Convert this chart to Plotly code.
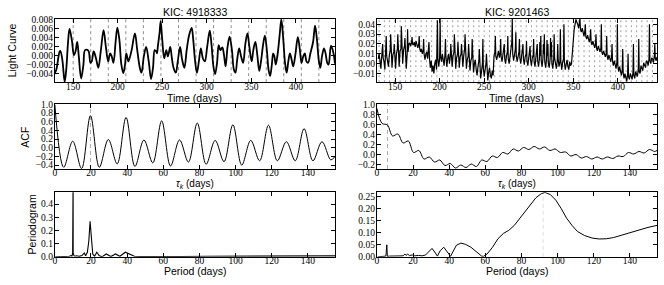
import numpy as np
import plotly.graph_objects as go

# ---------------- data ----------------
titles = ["KIC: 4918333", "KIC: 9201463"]

# Left light curve (time in days, flux in units of 1e-3)
lc1_t = [129.0,131.2,134.9,135.7,137.9,140.5,142.3,144.2,146.0,148.6,
         150.9,152.7,154.6,156.4,159.0,161.6,163.4,167.1,169.4,170.9,
         173.1,175.7,178.3,181.2,184.2,186.8,189.4,191.6,193.4,195.3,
         197.9,199.7,202.0,204.2,206.4,208.3,209.7,212.0,213.4,215.7,
         219.4,222.0,224.9,226.8,229.4,232.0,234.9,237.5,239.7,241.6,
         243.4,244.2,245.3,247.1,248.3,250.1,252.3,254.6,256.4,259.0,
         260.9,262.7,265.3,267.5,270.1,272.3,274.9,277.5,280.1,283.1,
         284.9,286.8,289.0,291.2,293.4,295.7,297.9,300.5,303.4,305.3,
         307.5,309.4,311.6,313.4,315.3,317.5,319.4,321.2,323.4,325.7,
         328.3,330.5,332.3,334.2,336.4,338.6,340.9,343.4,345.7,347.9,
         350.5,352.3,354.6,356.8,359.0,361.2,363.4,365.3,367.5,369.4,
         371.2,373.1,374.6,376.0,377.5,379.7,382.0,383.8,386.0,387.9,
         389.7,391.6,393.4,395.3,397.1,399.7,402.3,404.6,406.4,408.3,
         410.1,412.0,413.8,416.4,419.4,421.6,423.8,425.7,427.5,429.4,
         431.6,433.4,435.3,436.8,439.5,442.0,444.0]
lc1_f = [-4.1,-3.1,0.9,1.0,-0.9,-5.8,-3.1,2.6,5.9,3.4,
         0.1,0.9,3.0,-0.2,-5.1,-2.0,1.2,1.1,-1.6,-1.3,
         0.9,-0.6,-2.7,1.2,5.6,1.9,-1.3,0.5,-0.2,-1.6,
         3.4,6.2,3.4,-2.0,-3.9,-2.0,0.5,-1.3,-0.6,1.2,
         4.9,1.2,-2.7,-3.8,-0.2,1.9,-1.3,-5.2,-2.7,1.2,
         0.9,0.5,2.3,5.1,7.6,3.4,-0.6,1.2,-0.2,1.9,
         -0.6,-2.7,-3.8,-1.3,1.9,-0.8,-2.7,1.2,4.4,6.1,
         3.4,-0.9,-3.8,-1.3,1.6,-0.6,-1.3,1.9,5.5,2.6,
         -2.4,-4.1,-1.6,2.3,1.2,1.8,0.1,-2.4,1.9,4.2,
         1.2,-3.1,-3.8,-0.9,1.6,-0.2,-1.6,2.6,4.9,1.9,
         -1.3,1.2,3.0,0.1,-3.4,-0.9,2.6,4.4,1.2,-3.1,
         -4.5,-2.0,0.5,-0.2,-2.0,0.5,4.8,8.0,3.4,-1.6,
         -3.8,-1.3,0.5,-0.9,-2.4,0.5,4.1,1.2,-1.6,-0.2,
         0.5,-1.3,-1.6,0.5,3.0,6.6,3.4,-0.9,-2.7,-0.2,
         1.6,0.5,-1.6,-2.0,2.2,0.8,-1.8]

# Right light curve (time in days, flux in units of 1e-2)
lc2_t = [131,132,133,134,135,136,136.5,137.5,138.5,139.5,
         140,140.5,141.5,142.5,143.5,144.5,145,145.5,146.5,147.5,
         148.5,149,149.5,150.5,151.5,152.5,153,153.5,154.5,155.5,
         156.5,157,157.5,158.5,159.5,160.5,161,161.5,162.5,163.5,
         164,164.5,165.5,166.5,167.5,168.5,169,169.5,170.5,171.5,
         172.5,173.5,174.5,175.5,176.5,177,177.5,178.5,179.5,180.5,
         181.5,182,182.5,183.5,184.5,185.5,186.5,187.5,188,188.5,
         189.5,190.5,191.5,192.5,193.5,194.5,195.5,196.5,197,197.5,
         198,199,200,200.5,201,202,203,204,205,206,
         206.5,207,208,209,210,211,212,212.5,213,214,
         215,216,216.5,217,218,219,220,220.5,221,222,
         223,224,224.5,225,226,227,228,228.5,229,230,
         231,232,232.5,233,234,235,236,236.5,237,238,
         239,240,241,242,243,244,244.5,245,246,247,
         248,248.5,249,250,251,252,252.5,253,254,255,
         256,257,258,259,260,261,262,262.5,263,264,
         265,266,267,268,268.5,269,270,271,272,272.5,
         273,274,275,276,276.5,277,278,279,280,281,
         281.5,282,283,284,285,285.5,286,287,288,289,
         289.5,290,291,292,293,293.5,294,295,296,297,
         297.5,298,299,300,301,301.5,302,303,304,305,
         305.5,306,307,308,309,309.5,310,311,312,312.5,
         313,313.5,314,315,316,316.5,317,317.5,318,319,
         320,320.5,321,321.5,322,323,324,324.5,325,325.5,
         326,327,328,328.5,329,330,331,332,332.5,333,
         334,335,335.5,336,337,338,339,339.5,340,341,
         342,343,344,345,346,347,348,349,350,351,
         352,353,354,355,356,357,357.5,358,359,360,
         361,362,363,363.5,364,365,366,367,368,369,
         369.5,370,371,372,373,374,375,375.5,376,377,
         378,379,380,381,381.5,382,383,384,385,386,
         387,387.5,388,389,390,391,392,393,393.5,394,
         395,396,397,398,399,399.5,400,401,402,403,
         404,405,405.5,406,407,408,409,410,411,411.5,
         412,413,414,415,416,417,417.5,418,419,420,
         421,422,423,423.5,424,425,426,427,428,429,
         430,431,432,433,434,435,435.5,436,437,438,
         439,440,441,441.5,442,443,444]
lc2_f = [0.5,1.0,0.3,-0.5,0.8,2.0,0.6,0.2,-0.6,1.0,
         2.8,0.8,0.3,-0.3,0.9,1.3,3.0,0.7,-0.4,0.9,
         1.2,2.0,0.5,-0.5,1.0,1.5,3.0,0.8,-0.3,1.3,
         1.5,3.8,1.0,0.0,1.4,1.8,2.6,1.0,-0.5,1.0,
         3.5,1.2,2.0,2.1,1.8,2.2,2.7,2.0,1.9,2.2,
         1.7,2.3,1.9,1.6,2.0,2.8,1.6,1.2,1.5,1.0,
         1.4,2.5,1.0,0.4,1.0,1.2,0.5,1.3,2.2,0.6,
         -0.4,0.3,-0.8,-0.2,-1.0,0.0,0.4,-0.6,0.8,4.4,
         0.5,-0.3,0.6,4.6,0.8,0.2,1.0,0.3,-0.2,1.0,
         2.5,0.8,-0.3,0.5,1.0,0.0,0.8,2.0,0.6,-0.3,
         0.8,1.2,3.0,0.5,-0.5,0.6,1.0,2.2,0.4,-0.4,
         0.7,1.0,2.0,0.3,-0.3,0.8,1.5,3.0,0.5,-0.5,
         0.4,0.8,2.0,0.0,-0.7,0.3,0.6,2.5,0.0,-0.9,
         0.0,0.4,-0.6,-1.2,-0.3,0.3,1.5,-0.5,-1.5,-0.8,
         0.0,2.5,-0.4,-1.3,-0.6,0.0,1.0,-0.8,-1.7,-0.9,
         -0.4,-1.2,-1.5,-0.7,-1.2,0.8,1.2,2.8,0.8,0.4,
         1.0,1.3,0.6,1.2,2.5,0.7,0.2,0.9,1.1,2.0,
         0.5,0.0,0.8,1.2,2.8,0.5,0.0,0.9,1.3,2.2,
         4.6,1.0,0.3,1.0,1.5,3.2,0.8,0.2,1.0,1.2,
         2.5,0.6,0.0,0.8,1.1,2.0,0.5,-0.1,0.7,1.0,
         2.3,0.3,-0.2,0.7,1.0,1.8,0.4,-0.2,0.6,0.9,
         2.5,0.2,-0.3,0.6,0.9,2.0,0.3,-0.3,0.5,2.2,
         0.8,2.8,0.3,-0.3,0.6,2.0,1.0,3.0,0.2,-0.4,
         0.5,2.4,0.8,2.0,0.0,-0.4,0.5,2.6,0.7,2.2,
         0.0,-0.5,0.4,3.0,0.6,0.0,-0.5,0.3,2.0,0.5,
         -0.3,0.2,3.5,0.3,-0.6,0.1,0.5,4.0,0.2,-0.6,
         0.0,0.4,-0.3,-0.6,0.2,-0.2,0.0,1.5,2.8,3.5,
         4.0,4.5,4.2,4.0,3.6,4.3,4.6,3.5,3.2,3.6,
         3.0,2.8,3.3,4.0,2.8,2.5,2.9,2.4,2.2,2.7,
         3.5,2.2,1.9,2.3,1.8,1.6,2.1,3.0,1.6,1.3,
         1.8,1.4,1.2,1.6,4.0,1.2,0.9,1.3,1.0,0.7,
         1.1,2.8,0.8,0.4,0.9,0.6,0.2,0.7,2.0,0.3,
         -0.2,0.3,0.0,-0.5,0.2,4.0,-0.2,-0.8,-0.3,-0.7,
         -1.2,-0.6,1.5,-0.9,-1.5,-1.0,-1.4,-1.8,-1.1,1.0,
         -1.3,-1.6,-1.0,-1.3,-1.6,-0.9,2.0,-1.2,-1.5,-0.8,
         -1.0,-1.3,-0.5,2.5,-0.8,-1.0,-0.2,-0.4,-0.7,0.1,
         -0.1,-0.4,0.3,0.2,-0.2,0.5,4.0,0.3,0.0,0.6,
         0.5,0.1,0.8,2.0,0.6,0.3,0.7]

# ACFs (lag in days)
acf1_lag = [0, 4.9, 9.9, 14.8, 19.7, 24.6, 29.6, 34.5, 39.4, 44.3,
            49.3, 54.2, 59.1, 64.0, 69.0, 73.9, 78.8, 83.7, 88.7, 93.6,
            98.5, 103.4, 108.4, 113.3, 118.2, 123.1, 128.1, 133.0, 137.9, 142.8,
            147.8, 152.7, 155]
acf1_val = [1.0, -0.45, 0.15, -0.48, 0.74, -0.45, 0.19, -0.37, 0.70, -0.43,
            0.18, -0.35, 0.62, -0.42, 0.18, -0.33, 0.57, -0.38, 0.17, -0.32,
            0.53, -0.40, 0.17, -0.30, 0.52, -0.30, 0.14, -0.30, 0.44, -0.30,
            0.14, -0.28, -0.20]
acf2_lag = [0, 2.9, 5.8, 8.7, 11.6, 14.5, 17.4, 20.3, 23.2, 26.1,
            29.0, 31.9, 34.8, 37.7, 40.6, 43.5, 46.4, 49.3, 52.2, 55.1,
            58.0, 60.9, 63.8, 66.7, 69.6, 72.5, 75.4, 78.3, 81.2, 84.1,
            87.0, 89.9, 92.8, 95.7, 98.6, 101.5, 104.4, 107.3, 110.2, 113.1,
            116.0, 118.9, 121.8, 124.7, 127.6, 130.5, 133.4, 136.3, 139.2, 142.1,
            145.0, 147.9, 150.8, 153.7, 155]
acf2_val = [0.92, 0.62, 0.59, 0.37, 0.41, 0.23, 0.27, 0.04, 0.08, -0.09,
            -0.05, -0.15, -0.11, -0.22, -0.18, -0.27, -0.21, -0.26, -0.19, -0.24,
            -0.11, -0.14, -0.03, -0.06, 0.04, 0.01, 0.11, 0.07, 0.14, 0.10,
            0.16, 0.11, 0.15, 0.08, 0.11, 0.04, 0.05, -0.03, 0.0, -0.07,
            -0.04, -0.09, -0.05, -0.09, -0.05, -0.08, -0.03, -0.04, 0.04, 0.01,
            0.06, 0.03, 0.10, 0.06, 0.08]

# Periodograms (period in days)
pg1_per = [0.3, 3, 6, 8, 9, 9.5, 9.85, 9.9, 10.1, 10.15,
           10.5, 11, 12, 13.5, 15, 16.3, 17, 18, 18.8, 19.5,
           20.2, 21, 22, 23.2, 24.5, 26, 28.5, 31, 33.5, 36,
           39, 41.5, 44, 47, 55, 70, 85, 100, 115, 130,
           145, 155]
pg1_pow = [0, 0, 0.002, 0.004, 0.01, 0.004, 0.03, 0.6, 0.6, 0.03,
           0.012, 0.005, 0.008, 0.004, 0.01, 0.03, 0.008, 0.035, 0.12, 0.27,
           0.15, 0.02, 0.005, 0.035, 0.01, 0.0, 0.022, 0.002, 0.022, 0.004,
           0.035, 0.02, 0.004, 0.003, 0.002, 0.003, 0.004, 0.004, 0.007, 0.008,
           0.008, 0.007]
pg2_per = [0.5, 3, 5, 5.5, 5.8, 7, 9, 11, 13, 14.5,
           15.5, 16.2, 17, 18, 19.5, 21, 23, 25, 27, 28.5,
           30.5, 32, 33.5, 35, 37, 39, 40.8, 42, 44, 46.5,
           49, 52, 55, 58, 59, 61, 64, 67, 70, 73,
           76, 79, 82, 85, 88, 91, 93, 96, 99, 102,
           105, 108, 111, 115, 119, 123, 127, 131, 135, 140,
           145, 150, 156]
pg2_pow = [0, 0.001, 0.003, 0.05, 0.002, 0.003, 0.004, 0.004, 0.006, 0.004,
           0.012, 0.006, 0.012, 0.005, 0.008, 0.004, 0.006, 0.004, 0.008, 0.02,
           0.035, 0.02, 0.003, 0.025, 0.04, 0.02, 0.002, 0.02, 0.048, 0.057,
           0.052, 0.04, 0.02, 0.003, 0.002, 0.012, 0.04, 0.075, 0.097, 0.11,
           0.13, 0.16, 0.19, 0.22, 0.245, 0.262, 0.267, 0.258, 0.235, 0.2,
           0.16, 0.13, 0.105, 0.088, 0.078, 0.074, 0.075, 0.08, 0.088, 0.1,
           0.111, 0.122, 0.132]

period1 = 19.7      # ACF period, left star
period1_t0 = 150.1
period2 = 5.9       # ACF period, right star
period2_t0 = 132.0
pg2_peak = 92.0

# ---------------- figure ----------------
fig = go.Figure()

fig.add_trace(go.Scatter(x=lc1_t, y=np.array(lc1_f) * 1e-3, mode="lines",
                         line=dict(color="black", width=1.8, shape="spline", smoothing=1.0),
                         xaxis="x", yaxis="y", showlegend=False))
fig.add_trace(go.Scatter(x=lc2_t, y=np.array(lc2_f) * 1e-2, mode="lines",
                         line=dict(color="black", width=1.2),
                         xaxis="x2", yaxis="y2", showlegend=False))
fig.add_trace(go.Scatter(x=acf1_lag, y=acf1_val, mode="lines",
                         line=dict(color="black", width=1, shape="spline", smoothing=1.0),
                         xaxis="x3", yaxis="y3", showlegend=False))
fig.add_trace(go.Scatter(x=acf2_lag, y=acf2_val, mode="lines",
                         line=dict(color="black", width=1, shape="spline", smoothing=1.0),
                         xaxis="x4", yaxis="y4", showlegend=False))
fig.add_trace(go.Scatter(x=pg1_per, y=pg1_pow, mode="lines",
                         line=dict(color="black", width=1.1),
                         xaxis="x5", yaxis="y5", showlegend=False))
fig.add_trace(go.Scatter(x=pg2_per, y=pg2_pow, mode="lines",
                         line=dict(color="black", width=1),
                         xaxis="x6", yaxis="y6", showlegend=False))

# dashed period markers
for t in np.arange(period1_t0, 444, period1):
    fig.add_shape(type="line", xref="x", yref="y domain", x0=t, x1=t, y0=0, y1=1,
                  line=dict(color="#8c8c8c", width=1, dash="3px,3px"), layer="below")
for t in np.arange(period2_t0, 445, period2):
    fig.add_shape(type="line", xref="x2", yref="y2 domain", x0=t, x1=t, y0=0, y1=1,
                  line=dict(color="#a0a0a0", width=1, dash="2px,3px"), layer="below")
fig.add_shape(type="line", xref="x3", yref="y3 domain", x0=period1, x1=period1, y0=0, y1=1,
              line=dict(color="#aaaaaa", width=1, dash="4px,3px"), layer="below")
fig.add_shape(type="line", xref="x4", yref="y4 domain", x0=period2, x1=period2, y0=0, y1=1,
              line=dict(color="#aaaaaa", width=1, dash="4px,3px"), layer="below")
fig.add_shape(type="line", xref="x6", yref="y6 domain", x0=pg2_peak, x1=pg2_peak, y0=0, y1=1,
              line=dict(color="#dddddd", width=1, dash="4px,3px"), layer="below")

W, H = 664, 285
def px_x(a, b):
    return [a / W, b / W]
def px_y(top, bottom):
    return [1 - bottom / H, 1 - top / H]

xl = px_x(53, 334)
xr = px_x(376, 657)
yt = px_y(14, 80)
ym = px_y(103, 170)
yb = px_y(194, 261)

tickfont = dict(family="Liberation Serif", size=9.5, color="black")
def ax(**kw):
    d = dict(showline=True, linecolor="black", linewidth=1, mirror="ticks",
             ticks="inside", ticklen=4, tickwidth=1, tickcolor="black",
             showgrid=False, zeroline=False, tickfont=tickfont)
    d.update(kw)
    return d
def xa(**kw):
    return ax(ticklabelstandoff=-5, **kw)
def ya(**kw):
    return ax(ticklabelstandoff=-1, **kw)

lc_ticks = [150, 200, 250, 300, 350, 400]
lag_ticks = [0, 20, 40, 60, 80, 100, 120, 140]

fig.update_layout(
    width=W, height=H, margin=dict(l=0, r=0, t=0, b=0),
    paper_bgcolor="white", plot_bgcolor="white",
    xaxis=xa(domain=xl, anchor="y", range=[129.5, 444], tickvals=lc_ticks),
    yaxis=ya(domain=yt, anchor="x", range=[-0.0059, 0.0082],
             tickvals=[-0.004, -0.002, 0, 0.002, 0.004, 0.006, 0.008], tickformat=".3f"),
    xaxis2=xa(domain=xr, anchor="y2", range=[129.5, 444], tickvals=lc_ticks),
    yaxis2=ya(domain=yt, anchor="x2", range=[-0.0188, 0.0459],
              tickvals=[-0.01, 0, 0.01, 0.02, 0.03, 0.04], tickformat=".2f"),
    xaxis3=xa(domain=xl, anchor="y3", range=[0, 155], tickvals=lag_ticks),
    yaxis3=ya(domain=ym, anchor="x3", range=[-0.49, 1.0],
              tickvals=[-0.4, -0.2, 0, 0.2, 0.4, 0.6, 0.8, 1.0], tickformat=".1f"),
    xaxis4=xa(domain=xr, anchor="y4", range=[0, 155], tickvals=lag_ticks),
    yaxis4=ya(domain=ym, anchor="x4", range=[-0.29, 1.0],
              tickvals=[-0.2, 0, 0.2, 0.4, 0.6, 0.8, 1.0], tickformat=".1f"),
    xaxis5=xa(domain=xl, anchor="y5", range=[0, 155], tickvals=lag_ticks),
    yaxis5=ya(domain=yb, anchor="x5", range=[0, 0.49],
              tickvals=[0, 0.1, 0.2, 0.3, 0.4], tickformat=".1f"),
    xaxis6=xa(domain=xr, anchor="y6", range=[0, 155], tickvals=lag_ticks),
    yaxis6=ya(domain=yb, anchor="x6", range=[0, 0.268],
              tickvals=[0, 0.05, 0.1, 0.15, 0.2, 0.25], tickformat=".2f"),
)

sans = dict(family="Liberation Sans", size=10.5, color="black")
def note(text, x, y, angle=0, size=10.5):
    f = dict(sans)
    f["size"] = size
    fig.add_annotation(text=text, x=x / W, y=1 - y / H, xref="paper", yref="paper",
                       showarrow=False, font=f, textangle=angle,
                       xanchor="center", yanchor="middle")

cl = (53 + 334) / 2
cr = (376 + 657) / 2
note(titles[0], cl, 7)
note(titles[1], cr, 7)
for c in (cl, cr):
    note("Time (days)", c, 96)
    note('<i>τ<sub>k</sub></i> (days)', c, 185, size=10)
    note("Period (days)", c, 276)
note("Light Curve", 10, 47, -90)
note("ACF", 23, 136.5, -90)
note("Periodogram", 30, 227.5, -90)

fig.write_html("out.html", config={"displayModeBar": False},
               post_script="document.body.style.margin='0px';")
